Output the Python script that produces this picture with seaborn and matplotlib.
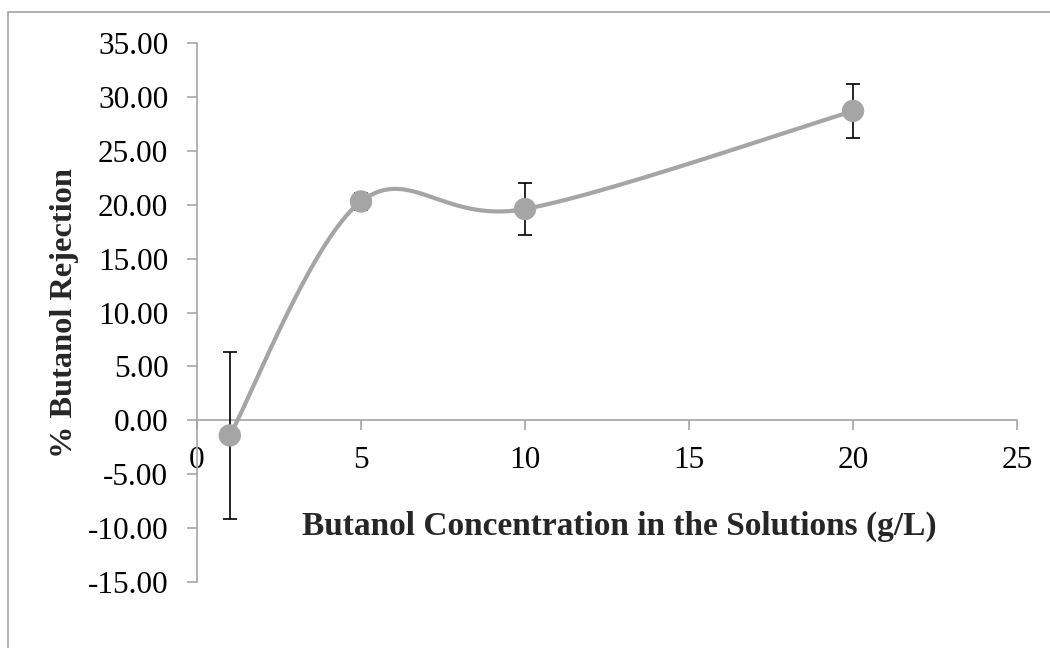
import numpy as np
import matplotlib
matplotlib.use("Agg")
import matplotlib.pyplot as plt
import seaborn as sns
from matplotlib.patches import Rectangle

# Data
concentration = [1, 5, 10, 20]
rejection = [-1.40, 20.30, 19.60, 28.70]
rejection_err = [7.75, 0.80, 2.45, 2.50]
x_ticks = [0, 5, 10, 15, 20, 25]
y_ticks = [-15, -10, -5, 0, 5, 10, 15, 20, 25, 30, 35]

sns.set_theme(style="white")
plt.rcParams['font.family'] = ['Liberation Serif', 'DejaVu Serif']

fig = plt.figure(figsize=(10.5, 6.48), dpi=100)
ax = fig.add_axes([197/1050, (648-582)/648, (1017-197)/1050, (582-43)/648])

# Outer chart border
fig.patches.append(Rectangle((8/1050, -0.1), 1.2, (648-12)/648 + 0.1,
                             transform=fig.transFigure, fill=False,
                             edgecolor="#a6a6a6", linewidth=1.2))

ax.set_xlim(0, 25)
ax.set_ylim(-15, 35)

# Smoothed line (Excel-like Bezier smoothing) in pixel-scaled space
sx, sy = 32.8, 10.77
P = np.column_stack([np.array(concentration, float) * sx, np.array(rejection, float) * sy])
curve = []
n = len(P)
for i in range(n - 1):
    p0 = P[i - 1] if i > 0 else P[i]
    p1 = P[i]
    p2 = P[i + 1]
    p3 = P[i + 2] if i + 2 < n else P[i + 1]
    c1 = p1 + (p2 - p0) / 6.0
    c2 = p2 - (p3 - p1) / 6.0
    t = np.linspace(0, 1, 60)[:, None]
    seg = ((1 - t) ** 3) * p1 + 3 * ((1 - t) ** 2) * t * c1 + 3 * (1 - t) * t ** 2 * c2 + t ** 3 * p2
    curve.append(seg)
curve = np.vstack(curve)
df_curve = {"x": curve[:, 0] / sx, "y": curve[:, 1] / sy}
sns.lineplot(x=df_curve["x"], y=df_curve["y"], ax=ax, color="#a5a5a5",
             linewidth=3, sort=False, estimator=None, zorder=2)

ax.errorbar(concentration, rejection, yerr=rejection_err, fmt="none",
            ecolor="black", elinewidth=1.2, capsize=5, capthick=1.2, zorder=3)
sns.scatterplot(x=concentration, y=rejection, ax=ax, color="#a5a5a5", s=260,
                edgecolor="none", zorder=4)

# Spines
for s in ["top", "right"]:
    ax.spines[s].set_visible(False)
ax.spines["bottom"].set_position(("data", 0))
ax.spines["left"].set_color("#a6a6a6")
ax.spines["bottom"].set_color("#a6a6a6")
ax.spines["left"].set_linewidth(1.2)
ax.spines["bottom"].set_linewidth(1.2)

ax.set_xticks(x_ticks)
ax.set_yticks(y_ticks)
ax.set_xticklabels([str(v) for v in x_ticks])
ax.set_yticklabels([f"{v:.2f}" for v in y_ticks])
ax.tick_params(axis="both", which="both", direction="out", length=7, width=1.2,
               color="#a6a6a6", labelsize=22.5, labelcolor="black")
ax.tick_params(axis="x", pad=11.6, bottom=True)
ax.tick_params(axis="y", pad=13.7, left=True)
ax.grid(False)

fig.text(619/1050, 1 - 526/648, "Butanol Concentration in the Solutions (g/L)",
         ha="center", va="center", fontsize=24, fontweight="bold")
fig.text(65/1050, 1 - 313/648, "% Butanol Rejection", ha="center", va="center",
         rotation=90, fontsize=23.3, fontweight="bold")

fig.savefig("out.png", dpi=100)
